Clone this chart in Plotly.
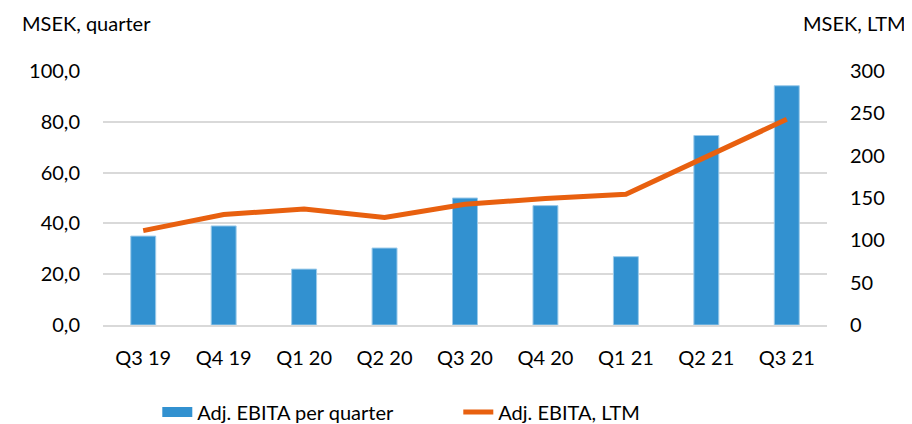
import plotly.graph_objects as go

categories = ["Q3 19", "Q4 19", "Q1 20", "Q2 20", "Q3 20", "Q4 20", "Q1 21", "Q2 21", "Q3 21"]
ebita_quarter = [35.0, 39.0, 22.0, 30.3, 50.0, 47.0, 26.9, 74.6, 94.2]
ebita_ltm = [111.5, 130.5, 137.0, 127.0, 142.5, 149.5, 154.5, 199.0, 243.0]
left_ticks = [0, 20, 40, 60, 80, 100]
left_labels = ["0,0", "20,0", "40,0", "60,0", "80,0", "100,0"]
right_ticks = [0, 50, 100, 150, 200, 250, 300]

FONT = "Lato"
BAR_COLOR = "#3291D0"
LINE_COLOR = "#E8600F"

fig = go.Figure()
fig.add_trace(go.Bar(x=categories, y=ebita_quarter, name="Adj. EBITA per quarter",
                     marker=dict(color=BAR_COLOR, line=dict(color="#9CCBEA", width=1)),
                     yaxis="y", showlegend=False))
# legend-only entry to show a wide rectangular swatch for the bars
fig.add_trace(go.Scatter(x=[None], y=[None], name="Adj. EBITA per quarter",
                         mode="lines", line=dict(color=BAR_COLOR, width=14),
                         yaxis="y", showlegend=True))
fig.add_trace(go.Scatter(x=categories, y=ebita_ltm, name="Adj. EBITA, LTM",
                         mode="lines", line=dict(color=LINE_COLOR, width=5),
                         yaxis="y2"))

fig.update_layout(
    width=904, height=416,
    margin=dict(l=95, r=85, t=63, b=99, autoexpand=False),
    paper_bgcolor="white", plot_bgcolor="white",
    font=dict(family=FONT, size=20, color="#000000"),
    bargap=0.69,
    xaxis=dict(showgrid=False, showline=True, linecolor="#D9D9D9", linewidth=2,
               ticks="", ticklabelstandoff=14),
    yaxis=dict(range=[0, 100], tickvals=left_ticks, ticktext=left_labels,
               showgrid=True, gridcolor="#D9D9D9", gridwidth=2, zeroline=False,
               ticks="", ticklabelstandoff=22),
    yaxis2=dict(range=[0, 300], tickvals=right_ticks, overlaying="y", side="right",
                showgrid=False, zeroline=False, ticks="", ticklabelstandoff=22),
    legend=dict(orientation="h", x=0.075, xanchor="left", y=-0.3425, yanchor="middle",
                font=dict(size=20), entrywidth=256, entrywidthmode="pixels"),
    showlegend=True,
)
fig.add_annotation(text="MSEK, quarter", xref="paper", yref="paper", x=-0.1146, y=1.189,
                   xanchor="left", yanchor="middle", showarrow=False, font=dict(size=20))
fig.add_annotation(text="MSEK, LTM", xref="paper", yref="paper", x=1.112, y=1.189,
                   xanchor="right", yanchor="middle", showarrow=False, font=dict(size=20))

fig.write_html("out.html")
